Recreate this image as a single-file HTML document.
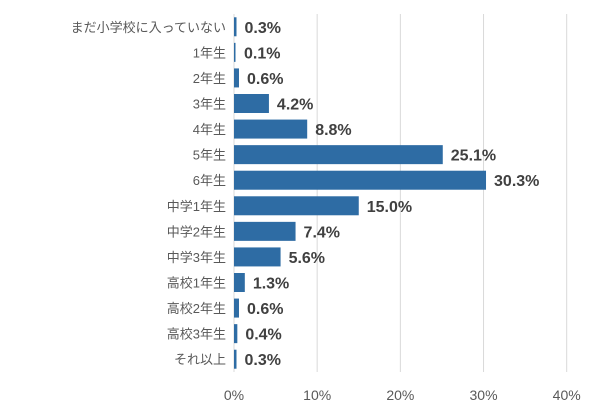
<!DOCTYPE html>
<html><head><meta charset="utf-8"><style>
body{margin:0;background:#fff;width:600px;height:411px;overflow:hidden}
text{font-family:"Liberation Sans","Noto Sans CJK JP",sans-serif}
</style></head><body>
<svg width="600" height="411" id="c"></svg>
<script>
const categories=["まだ小学校に入っていない","1年生","2年生","3年生","4年生","5年生","6年生","中学1年生","中学2年生","中学3年生","高校1年生","高校2年生","高校3年生","それ以上"];
const values=[0.3,0.1,0.6,4.2,8.8,25.1,30.3,15.0,7.4,5.6,1.3,0.6,0.4,0.3];
const ticks=[0,10,20,30,40];
const svgEl=document.getElementById('c');
const NS='http://www.w3.org/2000/svg';
const x0=234,x1=566.7,maxV=40,yTop=14,yBottom=372;
const xs=v=>x0+(x1-x0)*v/maxV;
const step=(yBottom-yTop)/categories.length;
const yc=i=>yTop+step*(i+0.5);
function mk(t,a){const e=document.createElementNS(NS,t);for(const k in a)e.setAttribute(k,a[k]);svgEl.appendChild(e);return e;}
ticks.forEach(t=>{
 const l=mk('line',{x1:xs(t),x2:xs(t),y1:yTop,y2:yBottom,stroke:'#d9d9d9','stroke-width':1});
 
 
 const tx=mk('text',{x:xs(t),y:400,'text-anchor':'middle','font-size':14,fill:'#595959'});
 tx.textContent=t+'%';
 
 
});
categories.forEach((c,i)=>{
 const y=yc(i);
 const lb=mk('text',{x:226,y:y+5,'text-anchor':'end','font-size':13,fill:'#595959'});
 lb.textContent=c;
 
 
 const b=mk('rect',{x:x0,y:y-9.5,width:Math.max(xs(values[i])-x0,1.5),height:19,fill:'#2e6ca4'});
 
 
 const v=mk('text',{x:Math.max(xs(values[i]),x0+2)+8,y:y+6,'font-size':16,'font-weight':'bold',fill:'#404040'});
 v.textContent=values[i].toFixed(1)+'%';
 
 
});
</script>
</body></html>
